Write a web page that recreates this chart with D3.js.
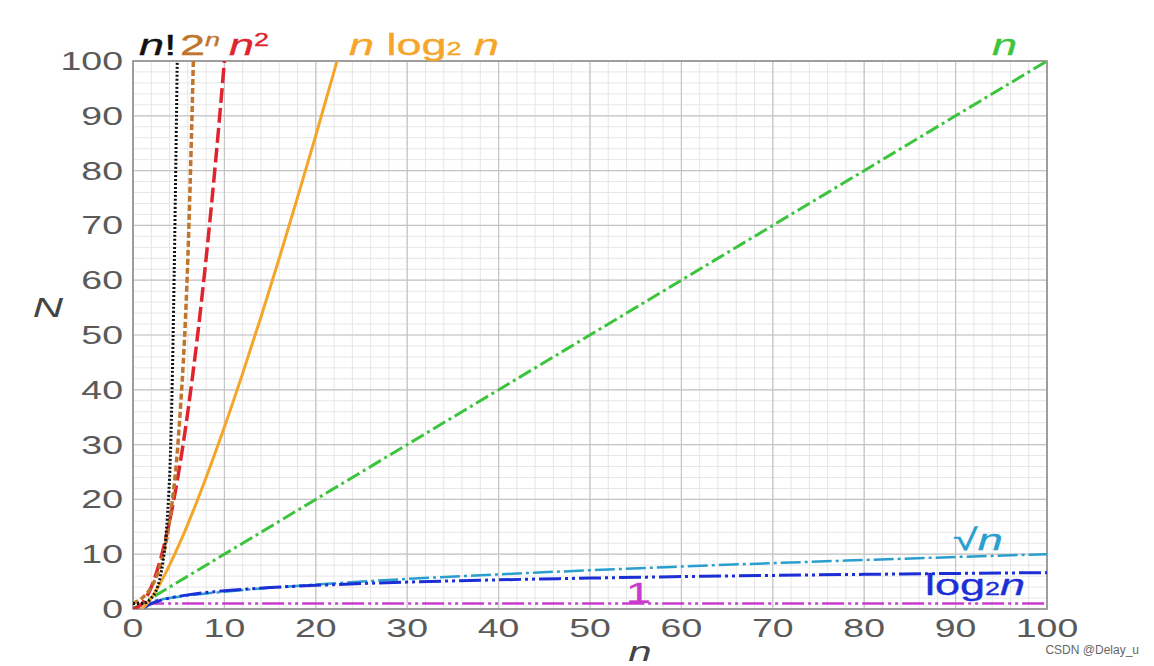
<!DOCTYPE html>
<html lang="en">
<head>
<meta charset="UTF-8">
<title>Growth of common complexity functions</title>
<script src="https://cdn.jsdelivr.net/npm/d3@7"></script>
<style>
	body { margin: 0; background: #fff; }
	text { font-family: "Liberation Sans", Arial, sans-serif; }
	.tick-label { fill: #5a5a5a; font-size: 25px; }
</style>
</head>
<body>
<script>
// values (n on x, N on y)
var xTicks = [0, 10, 20, 30, 40, 50, 60, 70, 80, 90, 100];
var yTicks = [0, 10, 20, 30, 40, 50, 60, 70, 80, 90, 100];

var constN = [1, 100];
var constV = [1, 1];

var logN = [1, 2, 3, 4, 5, 6, 8, 10, 15, 20, 25, 30, 40, 50, 60, 70, 80, 90, 100];
var logV = [0, 1, 1.58, 2, 2.32, 2.58, 3, 3.32, 3.91, 4.32, 4.64, 4.91, 5.32, 5.64, 5.91, 6.13, 6.32, 6.49, 6.64];

var sqrtN = [0, 1, 2, 3, 4, 5, 6, 8, 10, 15, 20, 25, 30, 40, 50, 60, 70, 80, 90, 100];
var sqrtV = [0, 1, 1.41, 1.73, 2, 2.24, 2.45, 2.83, 3.16, 3.87, 4.47, 5, 5.48, 6.32, 7.07, 7.75, 8.37, 8.94, 9.49, 10];

var linN = [0, 100];
var linV = [0, 100];

var nlogN = [1, 2, 3, 4, 5, 6, 8, 10, 12, 14, 16, 18, 20, 22, 24];
var nlogV = [0, 2, 4.75, 8, 11.6, 15.5, 24, 33.2, 43, 53.3, 64, 75.1, 86.4, 98.1, 110];

var sqN = [0, 1, 2, 3, 4, 5, 6, 7, 8, 9, 10, 11];
var sqV = [0, 1, 4, 9, 16, 25, 36, 49, 64, 81, 100, 121];

var expN = [0, 1, 2, 3, 4, 5, 6, 7];
var expV = [1, 2, 4, 8, 16, 32, 64, 128];

var factN = [0, 1, 2, 3, 4, 5];
var factV = [1, 1, 2, 6, 24, 120];

var series = [
	{ n: constN, v: constV, color: "#c83ccd", width: 2.5, dash: "22,4,3,4,3,4" },
	{ n: sqrtN, v: sqrtV, color: "#2a9fcf", width: 2.5, dash: "20,4,3,4" },
	{ n: logN, v: logV, color: "#1c2fd6", width: 3, dash: "22,4,3,4,3,4" },
	{ n: linN, v: linV, color: "#3cc43c", width: 3, dash: "14,4,3,4" },
	{ n: nlogN, v: nlogV, color: "#f5a62a", width: 3, dash: null },
	{ n: sqN, v: sqV, color: "#e0242e", width: 3.5, dash: "15,5" },
	{ n: expN, v: expV, color: "#c0742c", width: 3.5, dash: "6,3" },
	{ n: factN, v: factV, color: "#111", width: 3, dash: "2,2" }
];

var W = 1154, H = 666;
var x = d3.scaleLinear().domain([0, 100]).range([133, 1047]);
var y = d3.scaleLinear().domain([0, 100]).range([609, 61]);
var SX = 1.5; // picture is stretched horizontally

var svg = d3.select("body").append("svg")
	.attr("width", W).attr("height", H);

svg.append("defs").append("clipPath").attr("id", "plot")
	.append("rect")
	.attr("x", x(0)).attr("y", y(100))
	.attr("width", x(100) - x(0)).attr("height", y(0) - y(100));

// grid
var minor = d3.range(0, 101, 2);
var grid = svg.append("g");
grid.selectAll(".mx").data(minor).enter().append("line")
	.attr("x1", d => x(d)).attr("x2", d => x(d))
	.attr("y1", y(0)).attr("y2", y(100))
	.attr("stroke", "#e6e6e6").attr("stroke-width", 1);
grid.selectAll(".my").data(minor).enter().append("line")
	.attr("y1", d => y(d)).attr("y2", d => y(d))
	.attr("x1", x(0)).attr("x2", x(100))
	.attr("stroke", "#e6e6e6").attr("stroke-width", 1);
grid.selectAll(".gx").data(xTicks).enter().append("line")
	.attr("x1", d => x(d)).attr("x2", d => x(d))
	.attr("y1", y(0)).attr("y2", y(100))
	.attr("stroke", "#c4c4c4").attr("stroke-width", 1.2);
grid.selectAll(".gy").data(yTicks).enter().append("line")
	.attr("y1", d => y(d)).attr("y2", d => y(d))
	.attr("x1", x(0)).attr("x2", x(100))
	.attr("stroke", "#c4c4c4").attr("stroke-width", 1.2);

svg.append("rect")
	.attr("x", x(0)).attr("y", y(100))
	.attr("width", x(100) - x(0)).attr("height", y(0) - y(100))
	.attr("fill", "none").attr("stroke", "#8a8a8a").attr("stroke-width", 1.5);

// tick labels
function stretched(g, px, py, anchor) {
	return g.append("text")
		.attr("transform", "translate(" + px + "," + py + ") scale(" + SX + ",1)")
		.attr("text-anchor", anchor);
}
yTicks.forEach(function (d) {
	stretched(svg, 123, y(d) + 9, "end").attr("class", "tick-label").text(d);
});
xTicks.forEach(function (d) {
	stretched(svg, x(d), 637, "middle").attr("class", "tick-label").text(d);
});

// curves
var line = d3.line()
	.x(d => x(d[0])).y(d => y(d[1]))
	.curve(d3.curveMonotoneX);
var curves = svg.append("g").attr("clip-path", "url(#plot)");
series.forEach(function (s) {
	var pts = s.n.map((n, i) => [n, s.v[i]]);
	curves.append("path")
		.attr("d", line(pts))
		.attr("fill", "none")
		.attr("stroke", s.color)
		.attr("stroke-width", s.width)
		.attr("stroke-dasharray", s.dash);
});

// curve labels
function label(px, py, color, parts) {
	var t = stretched(svg, px, py, "start")
		.attr("fill", color).attr("stroke", color).attr("stroke-width", 0.35)
		.style("font-size", "30px");
	parts.forEach(function (p) {
		var ts = t.append("tspan").text(p.t);
		if (p.i) ts.style("font-style", "italic");
		if (p.sub) ts.style("font-size", "18px");
		if (p.sup) ts.style("font-size", "18px").attr("dy", -9);
	});
}
label(139, 55, "#111", [{ t: "n", i: 1 }, { t: "!" }]);
label(180, 55, "#c0742c", [{ t: "2" }, { t: "n", i: 1, sup: 1 }]);
label(229, 55, "#e0242e", [{ t: "n", i: 1 }, { t: "2", sup: 1 }]);
label(349, 55, "#f5a62a", [{ t: "n ", i: 1 }, { t: "log" }, { t: "2", sub: 1 }, { t: " n", i: 1 }]);
label(992, 55, "#3cc43c", [{ t: "n", i: 1 }]);
label(953, 550, "#2a9fcf", [{ t: "\u221A" }, { t: "n", i: 1 }]);
label(925, 595, "#1c2fd6", [{ t: "log" }, { t: "2", sub: 1 }, { t: "n", i: 1 }]);
label(626, 603, "#c83ccd", [{ t: "1" }]);

// axis titles
stretched(svg, 48, 317, "middle").attr("fill", "#444")
	.style("font-size", "28px").style("font-style", "italic").text("N");
stretched(svg, 640, 661, "middle").attr("fill", "#444")
	.style("font-size", "28px").style("font-style", "italic").text("n");

svg.append("text").attr("x", 1139).attr("y", 654).attr("text-anchor", "end")
	.attr("fill", "#666").style("font-size", "12px").text("CSDN @Delay_u");
</script>
</body>
</html>
